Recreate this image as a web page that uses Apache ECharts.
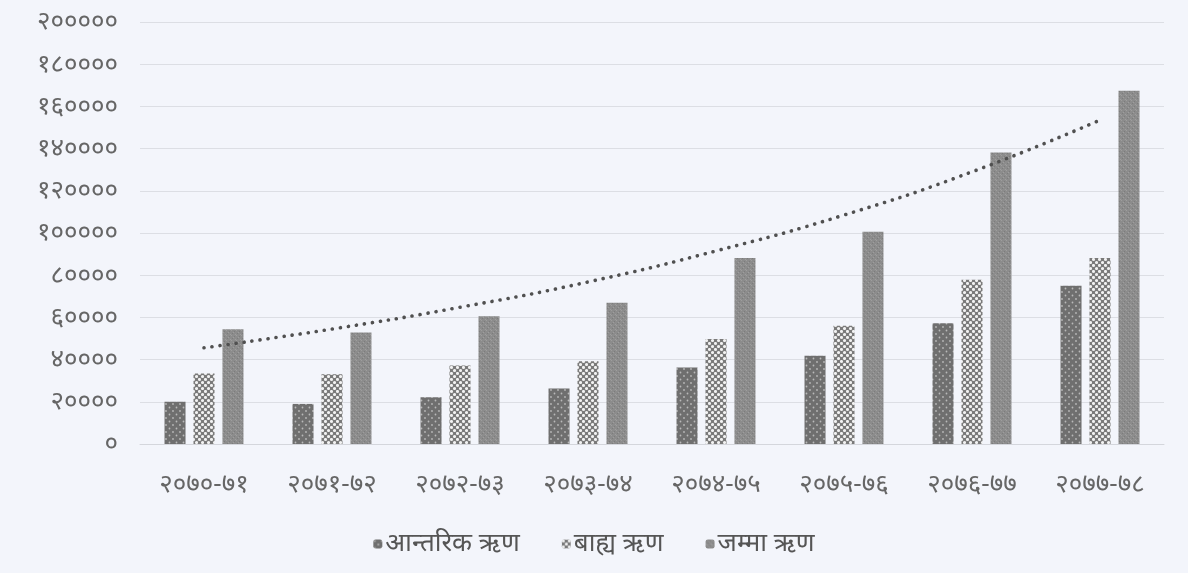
<!DOCTYPE html>
<html>
<head>
<meta charset="utf-8">
<script src="https://cdn.jsdelivr.net/npm/echarts@6/dist/echarts.min.js"></script>
<style>
html,body{margin:0;padding:0;background:#f3f5fb;}
#chart{width:1188px;height:573px;}
</style>
</head>
<body>
<div id="chart"></div>
<script>
const categories = ['२०७०-७१','२०७१-७२','२०७२-७३','२०७३-७४','२०७४-७५','२०७५-७६','२०७६-७७','२०७७-७८'];
const seriesNames = ['आन्तरिक ऋण','बाह्य ऋण','जम्मा ऋण'];
const internalDebt = [20000, 19000, 22200, 26300, 36300, 41800, 57200, 75000];
const externalDebt = [33400, 33000, 37200, 39200, 49800, 56000, 77800, 88200];
const totalDebt = [54400, 52800, 60500, 67000, 88200, 100600, 138200, 167400];
const trendValues = [45600, 54500, 64800, 76800, 91500, 108500, 129000, 153500];
const yTickLabels = ['०','२००००','४००००','६००००','८००००','१०००००','१२००००','१४००००','१६००००','१८००००','२०००००'];

function makePattern(kind){
  const c = document.createElement('canvas');
  if(kind==='dark'){
    c.width=7;c.height=7;const g=c.getContext('2d');
    g.fillStyle='#6f6f6f';g.fillRect(0,0,7,7);
    g.fillStyle='#b9b9b9';
    g.beginPath();g.arc(1.5,1.5,0.9,0,Math.PI*2);g.fill();
    g.beginPath();g.arc(5,5,0.9,0,Math.PI*2);g.fill();
  } else if(kind==='cross'){
    c.width=6;c.height=6;const g=c.getContext('2d');
    g.fillStyle='#7a7a7a';g.fillRect(0,0,6,6);
    g.fillStyle='#f2f2f2';
    [[1.5,1.5],[4.5,4.5]].forEach(p=>{g.beginPath();g.arc(p[0],p[1],1.55,0,Math.PI*2);g.fill();});
  } else {
    c.width=5;c.height=5;const g=c.getContext('2d');
    g.fillStyle='#8c8c8c';g.fillRect(0,0,5,5);
    g.fillStyle='#9e9e9e';g.fillRect(1,0,1,1);g.fillRect(3,2,1,1);g.fillRect(0,4,1,1);
    g.fillStyle='#7c7c7c';g.fillRect(2,3,1,1);g.fillRect(4,1,1,1);
  }
  return {image:c, repeat:'repeat'};
}

const font = "'Noto Sans', 'DejaVu Sans', sans-serif";
const chart = echarts.init(document.getElementById('chart'), null, {renderer:'canvas'});
const barDefs = [internalDebt, externalDebt, totalDebt];
const pats = [makePattern('dark'), makePattern('cross'), makePattern('total')];
const series = barDefs.map((d,i)=>({
  name: seriesNames[i], type:'bar', data:d, barWidth:21, barGap:'38%',
  itemStyle:{color:pats[i]}
}));
series.push({
  name:'trend', type:'line', data:trendValues, symbol:'none', smooth:true,
  lineStyle:{color:'#505050', width:3.6, type:[0.1,8], cap:'round'}, z:5
});
chart.setOption({
  backgroundColor:'#f3f5fb',
  animation:false,
  grid:{left:140,right:24,top:22,bottom:129},
  legend:{data:seriesNames, top:526, left:'center', itemWidth:9, itemHeight:9, itemGap:42,
    textStyle:{fontFamily:font, fontSize:26, color:'#555', padding:[0,0,0,-2]}},
  xAxis:{type:'category', data:categories,
    axisLine:{show:true,lineStyle:{color:'#d4d6dc'}}, axisTick:{show:false},
    axisLabel:{margin:28, fontFamily:font, fontSize:26, color:'#666'}},
  yAxis:{type:'value', min:0, max:200000, interval:20000,
    axisLine:{show:false}, axisTick:{show:false},
    splitLine:{lineStyle:{color:'#dcdee4', width:1}},
    axisLabel:{margin:22, fontFamily:font, fontSize:26, color:'#666',
      formatter:(v)=>yTickLabels[Math.round(v/20000)]}},
  series:series
});
</script>
</body>
</html>
